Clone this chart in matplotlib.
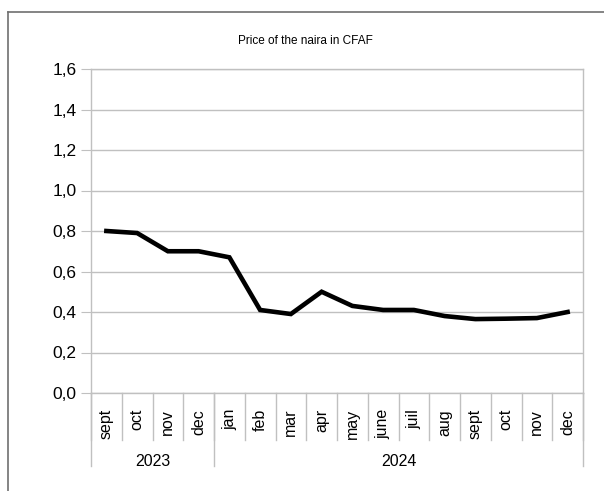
import matplotlib
matplotlib.use("Agg")
import matplotlib.pyplot as plt
from matplotlib.lines import Line2D

# data
months = ['sept', 'oct', 'nov', 'dec', 'jan', 'feb', 'mar', 'apr', 'may',
          'june', 'juil', 'aug', 'sept', 'oct', 'nov', 'dec']
years = ['2023', '2024']
year_counts = [4, 12]
price = [0.80, 0.79, 0.70, 0.70, 0.67, 0.41, 0.39, 0.50, 0.43,
         0.41, 0.41, 0.38, 0.365, 0.367, 0.37, 0.40]
yticks = [0.0, 0.2, 0.4, 0.6, 0.8, 1.0, 1.2, 1.4, 1.6]

plt.rcParams['font.family'] = ['Liberation Sans', 'DejaVu Sans']

W, H = 604, 491
fig = plt.figure(figsize=(W / 100, H / 100), dpi=100)

# plot area in pixels
L, R, T, B = 91, 583, 69, 393
ax = fig.add_axes([L / W, 1 - B / H, (R - L) / W, (B - T) / H])

grid_col = '#c0c0c0'
ax.plot(range(len(price)), price, color='black', lw=3.3,
        solid_joinstyle='miter', zorder=3)

ax.set_xlim(-0.5, len(months) - 0.5)
ax.set_ylim(0, 1.6)
ax.set_yticks(yticks)
ax.set_yticklabels([('%.1f' % v).replace('.', ',') for v in yticks], fontsize=12.5)
ax.tick_params(axis='y', length=7.2, width=0.8, color=grid_col, pad=3)
ax.yaxis.grid(True, color=grid_col, lw=1)
ax.set_axisbelow(True)
ax.set_xticks([])
for s in ax.spines.values():
    s.set_color(grid_col)
    s.set_linewidth(1)

# category axis by hand
ah = B - T
def ay(px):
    return (B - px) / ah

tr = ax.get_xaxis_transform()
for i, m in enumerate(months):
    ax.text(i, ay(409), m, rotation=90, ha='center', va='top',
            fontsize=11.5, transform=tr)
for i in range(len(months) + 1):
    ax.plot([i - 0.5, i - 0.5], [0, ay(440)], color=grid_col, lw=1,
            transform=tr, clip_on=False)

start = 0
bounds = [0]
for y, n in zip(years, year_counts):
    ax.text(start + n / 2 - 0.5, ay(462), y, ha='center', va='center',
            fontsize=11.5, transform=tr)
    start += n
    bounds.append(start)
for b in bounds:
    ax.plot([b - 0.5, b - 0.5], [0, ay(466)], color=grid_col, lw=1,
            transform=tr, clip_on=False)

fig.text(0.505, 1 - 41 / H, 'Price of the naira in CFAF', ha='center',
         va='center', fontsize=8.5)

# outer chart frame (only top and left visible)
fig.add_artist(Line2D([8 / W, 8 / W], [0, 1 - 12 / H], color='#707070',
                      lw=1.2, transform=fig.transFigure))
fig.add_artist(Line2D([8 / W, 1], [1 - 12 / H, 1 - 12 / H], color='#707070',
                      lw=1.2, transform=fig.transFigure))

fig.savefig('out.png', dpi=100)
